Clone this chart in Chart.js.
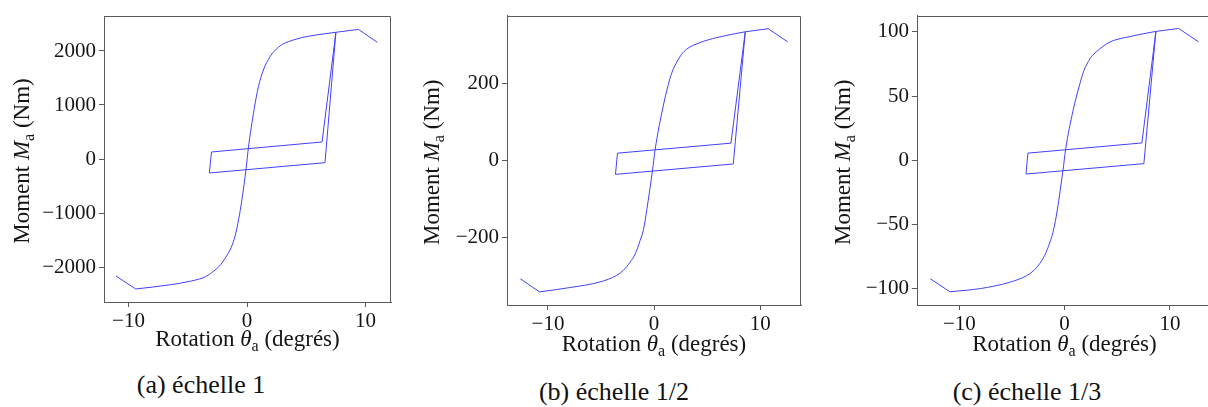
<!DOCTYPE html>
<html>
<head>
<meta charset="utf-8">
<script src="https://cdn.jsdelivr.net/npm/chart.js@4.4.0/dist/chart.umd.min.js"></script>
<style>
  html, body { margin:0; padding:0; background:#fff; width:1208px; height:407px; overflow:hidden; }
  .panel { position:absolute; top:0; width:410px; height:360px; }
  .cap { position:absolute; font-family:"Liberation Serif", serif; font-size:26px; line-height:30px; color:#111; white-space:nowrap; transform:translateX(-50%); }
</style>
</head>
<body>
<div class="panel" style="left:0;width:400px"><canvas id="ca"></canvas></div>
<div class="panel" style="left:400px"><canvas id="cb"></canvas></div>
<div class="panel" style="left:810px"><canvas id="cc"></canvas></div>
<div class="cap" style="left:201px;top:370px">(a) échelle 1</div>
<div class="cap" style="left:614px;top:377px">(b) échelle 1/2</div>
<div class="cap" style="left:1027px;top:377px">(c) échelle 1/3</div>
<script>
// ---------- DATA (rotation in degrees, moment in Nm) ----------
const startA = [[-11.05,-2167],[-9.4,-2407]];
const backboneA = [[-9.4,-2407],[-6.6,-2333],[-4.7,-2259],[-3.5,-2179],[-2.7,-2056],[-2.2,-1950],[-1.86,-1840],[-1.34,-1640],[-1.0,-1420],[-0.7,-1110],[-0.45,-780],[-0.08,-185],[0.11,198],[0.6,920],[0.96,1340],[1.38,1648],[1.94,1895],[2.3,1995],[2.64,2068],[3.0,2125],[3.5,2173],[4.6,2247],[6.0,2302],[7.5,2346]];
const loopA = [[7.5,2346],[6.58,-68],[-3.18,-259],[-3.0,130],[6.33,315],[7.5,2346],[9.4,2400],[11.0,2160]];

const startB = [[-12.6,-307],[-10.8,-341]];
const backboneB = [[-10.8,-341],[-8,-330],[-5.08,-315],[-3.51,-298],[-2.89,-285],[-2.26,-264],[-1.79,-243],[-1.32,-208],[-1.0,-179],[-0.69,-128],[-0.16,-27],[0.09,27],[0.88,144],[1.5,213],[1.82,238],[2.13,255],[2.6,276],[3.07,289],[4.33,306],[5.9,319],[8.59,334]];
const loopB = [[8.59,334],[7.46,-9],[-3.64,-36],[-3.45,19],[7.24,45],[8.59,334],[10.75,342],[12.58,308]];

const startC = [[-12.75,-92.3],[-10.9,-102.4]];
const backboneC = [[-10.9,-102.4],[-8,-99.9],[-5.22,-95],[-3.64,-90],[-3.01,-86.4],[-2.37,-80.5],[-1.9,-74.1],[-1.42,-64.5],[-1.11,-56.2],[-0.79,-43.4],[-0.16,-8.2],[0.09,8.1],[0.79,38.3],[1.42,58.7],[1.74,67.7],[2.06,74],[2.53,80.5],[3.01,84.5],[4.27,92],[5.86,95.8],[8.67,100.4]];
const loopC = [[8.67,100.4],[7.53,-2.6],[-3.67,-10.7],[-3.48,5.6],[7.34,13.5],[8.67,100.4],[10.83,102.7],[12.73,92.2]];

const xTicks = [-10, 0, 10];
const yTicksA = [-2000, -1000, 0, 1000, 2000];
const yTicksB = [-200, 0, 200];
const yTicksC = [-100, -50, 0, 50, 100];

const xLabel = [{t:'Rotation '},{t:'θ',it:true},{t:'a',sub:true},{t:' (degrés)'}];
const yLabel = [{t:'Moment '},{t:'M',it:true},{t:'a',sub:true},{t:' (Nm)'}];

// ---------- STYLE ----------
const FONT = '"Liberation Serif", serif';
const LINE = '#4040ff';
const AXIS = '#5a5a5a';
const TEXT = '#151515';

function fmt(v){ return v < 0 ? '\u2212' + Math.abs(v) : String(v); }
const toPts = arr => arr.map(p => ({x:p[0], y:p[1]}));

function drawRich(ctx, parts, size){
  const fontOf = p => (p.it ? 'italic ' : '') + (p.sub ? Math.round(size*0.7) : size) + 'px ' + FONT;
  let w = 0;
  parts.forEach(p => { ctx.font = fontOf(p); p._w = ctx.measureText(p.t).width; w += p._w; });
  let x = -w/2;
  ctx.textBaseline = 'alphabetic';
  ctx.textAlign = 'left';
  parts.forEach(p => {
    ctx.font = fontOf(p);
    ctx.fillText(p.t, x, p.sub ? size*0.22 : 0);
    x += p._w;
  });
}

const decor = {
  id:'decor',
  afterDraw(chart, args, o){
    const {ctx, chartArea:a} = chart;
    ctx.save();
    ctx.strokeStyle = AXIS; ctx.lineWidth = 1;
    ctx.beginPath();
    const t = Math.round(a.top) + 0.5, r = Math.round(a.right) - 0.5;
    ctx.moveTo(a.left, t); ctx.lineTo(r, t); ctx.lineTo(r, a.bottom);
    ctx.stroke();
    ctx.fillStyle = TEXT;
    ctx.save();
    ctx.translate((a.left + a.right)/2, o.xBase);
    drawRich(ctx, xLabel, 23);
    ctx.restore();
    ctx.save();
    ctx.translate(o.yBase, (a.top + a.bottom)/2 + 2);
    ctx.rotate(-Math.PI/2);
    drawRich(ctx, yLabel, 23);
    ctx.restore();
    ctx.restore();
  }
};

function makeChart(id, start, backbone, loop, xr, yr, yTicks, pad, yW, xH, xBase, yBase){
  const ds = (d, mono) => ({
    data: toPts(d), borderColor: LINE, borderWidth: 1, pointRadius: 0, showLine: true, fill: false,
    cubicInterpolationMode: mono ? 'monotone' : 'default', tension: 0
  });
  return new Chart(document.getElementById(id), {
    type: 'scatter',
    data: { datasets: [ds(start,false), ds(backbone,true), ds(loop,false)] },
    options: {
      responsive: false, animation: false, devicePixelRatio: 1,
      layout: { padding: pad },
      plugins: { legend:{display:false}, tooltip:{enabled:false}, decor:{xBase, yBase} },
      scales: {
        x: {
          type:'linear', min:xr[0], max:xr[1],
          afterBuildTicks: s => { s.ticks = xTicks.map(v => ({value:v})); },
          afterFit: s => { s.height = xH; },
          grid: { drawOnChartArea:false, drawTicks:true, tickLength:5, tickColor:AXIS },
          border: { display:true, color:AXIS, width:1 },
          ticks: { color:TEXT, font:{family:FONT, size:21}, padding:2, maxRotation:0, callback: fmt }
        },
        y: {
          type:'linear', min:yr[0], max:yr[1],
          afterBuildTicks: s => { s.ticks = yTicks.map(v => ({value:v})); },
          afterFit: s => { s.width = yW; },
          grid: { drawOnChartArea:false, drawTicks:true, tickLength:5, tickColor:AXIS },
          border: { display:true, color:AXIS, width:1 },
          ticks: { color:TEXT, font:{family:FONT, size:21}, padding:3, callback: fmt }
        }
      }
    },
    plugins: [decor]
  });
}

function size(id, w, h){ const c = document.getElementById(id); c.width = w; c.height = h; c.style.width = w+'px'; c.style.height = h+'px'; }
size('ca', 400, 360); size('cb', 410, 360); size('cc', 410, 360);

makeChart('ca', startA, backboneA, loopA, [-12.07, 12.15], [-2648, 2648], yTicksA,
  {top:16, right:9, left:0, bottom:0}, 104, 58, 346, 29);
makeChart('cb', startB, backboneB, loopB, [-13.86, 13.84], [-375, 376], yTicksB,
  {top:11, right:9, left:0, bottom:0}, 107, 55, 351, 39);
makeChart('cc', startC, backboneC, loopC, [-14.02, 14.0], [-112.7, 112.7], yTicksC,
  {top:11, right:8, left:0, bottom:0}, 107, 55, 351, 40);
</script>
</body>
</html>
